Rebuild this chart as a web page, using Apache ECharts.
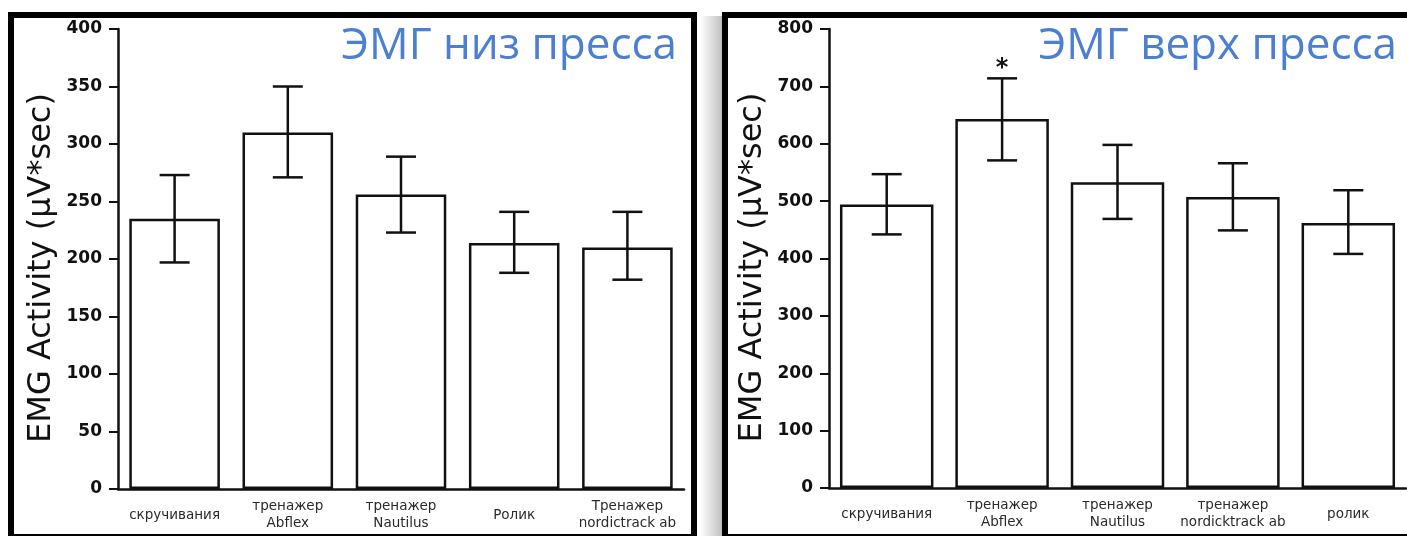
<!DOCTYPE html>
<html>
<head>
<meta charset="utf-8">
<script src="https://cdn.jsdelivr.net/npm/echarts@6/dist/echarts.min.js"></script>
<style>
html,body{margin:0;padding:0;background:#fff;}
#c{width:1407px;height:536px;}
</style>
</head>
<body>
<div id="c"></div>
<script>
// ---- data ----
const titleLow = 'ЭМГ низ пресса';
const titleUp = 'ЭМГ верх пресса';
const yName = 'EMG Activity (µV*sec)';

const catsLow = ['скручивания', 'тренажер\nAbflex', 'тренажер\nNautilus', 'Ролик', 'Тренажер\nnordictrack ab'];
const meanLow = [235, 310, 256, 214, 210];
const hiLow   = [273, 350, 289, 241, 241];
const loLow   = [197, 271, 223, 188, 182];
const sigLow  = [0, 0, 0, 0, 0];

const catsUp = ['скручивания', 'тренажер\nAbflex', 'тренажер\nNautilus', 'тренажер\nnordicktrack ab', 'ролик'];
const meanUp = [494, 643, 533, 507, 462];
const hiUp   = [547, 714, 598, 566, 519];
const loUp   = [442, 571, 469, 449, 408];
const sigUp  = [0, 1, 0, 0, 0];

const yLowMax = 400, yLowStep = 50;
const yUpMax = 800, yUpStep = 100;

// ---- chart ----
const chart = echarts.init(document.getElementById('c'), null, {renderer: 'canvas'});

function errData(lo, hi, sig) {
  return lo.map((v, i) => [i, v, hi[i], sig[i]]);
}

function renderErr(params, api) {
  const i = api.value(0);
  const pLo = api.coord([i, api.value(1)]);
  const pHi = api.coord([i, api.value(2)]);
  const cap = 15;
  const st = {stroke: '#111', lineWidth: 2.5};
  const children = [
    {type: 'line', shape: {x1: pLo[0], y1: pLo[1], x2: pHi[0], y2: pHi[1]}, style: st},
    {type: 'line', shape: {x1: pLo[0] - cap, y1: pLo[1], x2: pLo[0] + cap, y2: pLo[1]}, style: st},
    {type: 'line', shape: {x1: pHi[0] - cap, y1: pHi[1], x2: pHi[0] + cap, y2: pHi[1]}, style: st}
  ];
  if (api.value(3)) {
    children.push({type: 'text', style: {text: '*', x: pHi[0], y: pHi[1] + 2, align: 'center', verticalAlign: 'bottom',
      font: 'bold 24px "DejaVu Sans"', fill: '#111'}});
  }
  return {type: 'group', children: children};
}

const axisLineStyle = {color: '#111', width: 2.5};
const yLabel = {color: '#111', fontFamily: 'DejaVu Sans', fontWeight: 'bold', fontSize: 17, margin: 16};
const xLabel = {color: '#2a2a2a', fontFamily: 'DejaVu Sans', fontSize: 13.5, lineHeight: 17, margin: 26, verticalAlign: 'middle', interval: 0};
const yNameStyle = {color: '#111', fontFamily: 'DejaVu Sans', fontSize: 32, padding: [0, 18, 0, 0]};
const titleStyle = {color: '#4a7fd2', fontFamily: 'Open Sans', fontSize: 44, fontWeight: 'normal'};

const option = {
  backgroundColor: '#fff',
  animation: false,
  title: [
    {text: titleLow, right: 725, top: 19, textStyle: titleStyle},
    {text: titleUp, right: 5, top: 19, textStyle: titleStyle}
  ],
  grid: [
    {left: 118, top: 29, width: 566, height: 460},
    {left: 829, top: 29, width: 577, height: 459}
  ],
  xAxis: [
    {type: 'category', gridIndex: 0, data: catsLow, axisLine: {lineStyle: axisLineStyle}, axisTick: {show: false}, axisLabel: xLabel},
    {type: 'category', gridIndex: 1, data: catsUp, axisLine: {lineStyle: axisLineStyle}, axisTick: {show: false}, axisLabel: xLabel}
  ],
  yAxis: [
    {type: 'value', gridIndex: 0, min: 0, max: yLowMax, interval: yLowStep,
     name: yName, nameLocation: 'middle', nameGap: 60, nameTextStyle: yNameStyle,
     axisLine: {show: true, lineStyle: axisLineStyle}, axisTick: {show: true, length: 9, lineStyle: {color: '#111', width: 2}},
     axisLabel: yLabel, splitLine: {show: false}},
    {type: 'value', gridIndex: 1, min: 0, max: yUpMax, interval: yUpStep,
     name: yName, nameLocation: 'middle', nameGap: 60, nameTextStyle: yNameStyle,
     axisLine: {show: true, lineStyle: axisLineStyle}, axisTick: {show: true, length: 9, lineStyle: {color: '#111', width: 2}},
     axisLabel: yLabel, splitLine: {show: false}}
  ],
  series: [
    {type: 'bar', xAxisIndex: 0, yAxisIndex: 0, data: meanLow, barCategoryGap: '20%',
     itemStyle: {color: '#fff', borderColor: '#111', borderWidth: 2.5}},
    {type: 'custom', xAxisIndex: 0, yAxisIndex: 0, data: errData(loLow, hiLow, sigLow), renderItem: renderErr, z: 5},
    {type: 'bar', xAxisIndex: 1, yAxisIndex: 1, data: meanUp, barCategoryGap: '19%',
     itemStyle: {color: '#fff', borderColor: '#111', borderWidth: 2.5}},
    {type: 'custom', xAxisIndex: 1, yAxisIndex: 1, data: errData(loUp, hiUp, sigUp), renderItem: renderErr, z: 5}
  ],
  graphic: [
    {type: 'rect', z: 100, shape: {x: 700, y: 16, width: 22, height: 522},
     style: {fill: new echarts.graphic.LinearGradient(0, 0, 1, 0, [
       {offset: 0, color: 'rgba(0,0,0,0)'}, {offset: 1, color: 'rgba(0,0,0,0.25)'}])}},
    {type: 'rect', z: 101, shape: {x: 11, y: 15, width: 683, height: 522},
     style: {fill: 'none', stroke: '#000', lineWidth: 6}},
    {type: 'rect', z: 101, shape: {x: 725, y: 15, width: 700, height: 522},
     style: {fill: 'none', stroke: '#000', lineWidth: 6}}
  ]
};
chart.setOption(option);
</script>
</body>
</html>
